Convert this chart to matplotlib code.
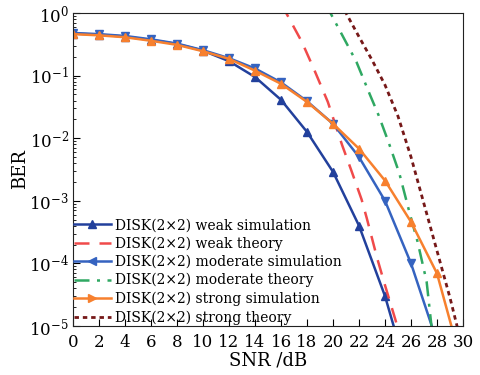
import numpy as np
import matplotlib
matplotlib.use("Agg")
import matplotlib.pyplot as plt
from matplotlib.lines import Line2D
from matplotlib.ticker import LogLocator, LogFormatterMathtext, NullFormatter

plt.rcParams["font.family"] = ["DejaVu Serif"]
plt.rcParams["mathtext.fontset"] = "dejavuserif"

# simulation points, every 2 dB
snr_sim = [0, 2, 4, 6, 8, 10, 12, 14, 16, 18, 20, 22, 24, 26]
ber_weak_sim = [0.47, 0.45, 0.42, 0.37, 0.32, 0.25, 0.17, 0.095, 0.041, 0.0126, 0.0029, 4.0e-4, 3.0e-5, 1.1e-6]

snr_sim2 = [0, 2, 4, 6, 8, 10, 12, 14, 16, 18, 20, 22, 24, 26, 28]
ber_mod_sim = [0.48, 0.46, 0.43, 0.38, 0.325, 0.255, 0.19, 0.13, 0.078, 0.039, 0.017, 0.005, 1.0e-3, 1.0e-4, 5.6e-6]

snr_sim3 = [0, 2, 4, 6, 8, 10, 12, 14, 16, 18, 20, 22, 24, 26, 28, 30]
ber_str_sim = [0.46, 0.44, 0.41, 0.36, 0.31, 0.245, 0.185, 0.12, 0.074, 0.038, 0.017, 0.0068, 0.0021, 4.6e-4, 6.9e-5, 2.1e-6]

# theory curves (log10 BER)
snr_weak_th = [16.0, 16.4, 17.6, 18.5, 19.6, 20.7, 21.4, 22.2, 22.6, 23.4, 24.0, 24.8, 25.0]
lg_weak_th = [0.15, 0.0, -0.46, -0.88, -1.42, -2.11, -2.51, -2.98, -3.28, -3.92, -4.35, -4.9, -5.05]

snr_mod_th = [19.4, 19.8, 20.7, 21.8, 22.85, 23.5, 24.3, 25.1, 25.9, 26.5, 27.2, 27.6]
lg_mod_th = [0.15, 0.0, -0.35, -0.78, -1.31, -1.63, -2.08, -2.56, -3.2, -3.65, -4.29, -5.05]

snr_str_th = [20.6, 21.0, 22.0, 23.0, 24.0, 25.0, 26.0, 27.0, 28.0, 29.0, 29.6]
lg_str_th = [0.15, 0.0, -0.38, -0.75, -1.15, -1.65, -2.3, -3.05, -3.8, -4.55, -5.05]

labels = ["DISK(2×2) weak simulation", "DISK(2×2) weak theory",
          "DISK(2×2) moderate simulation", "DISK(2×2) moderate theory",
          "DISK(2×2) strong simulation", "DISK(2×2) strong theory"]

c_weak = "#22409c"
c_weak_th = "#f04a4a"
c_mod = "#3563c0"
c_mod_th = "#2fa862"
c_str = "#f7802e"
c_str_th = "#761818"

fig = plt.figure(figsize=(4.81, 3.75), dpi=100)
ax = fig.add_axes([0.1518, 0.1307, 0.8108, 0.8346])

ax.semilogy(snr_sim, ber_weak_sim, color=c_weak, lw=1.8, marker="^", ms=5.5)
ax.semilogy(snr_weak_th, 10 ** np.array(lg_weak_th), color=c_weak_th, lw=1.8, dashes=(6, 4))
ax.semilogy(snr_sim2, ber_mod_sim, color=c_mod, lw=1.8, marker="v", ms=5.5)
ax.semilogy(snr_mod_th, 10 ** np.array(lg_mod_th), color=c_mod_th, lw=1.8, dashes=(6, 3, 1.2, 3))
ax.semilogy(snr_sim3, ber_str_sim, color=c_str, lw=1.8, marker="^", ms=5.5)
ax.semilogy(snr_str_th, 10 ** np.array(lg_str_th), color=c_str_th, lw=2.0, dashes=(1.6, 1.4))

ax.set_xlim(0, 30)
ax.set_ylim(1e-5, 1)
ax.set_xticks(np.arange(0, 31, 2))
ax.yaxis.set_major_locator(LogLocator(base=10, numticks=10))
ax.yaxis.set_major_formatter(LogFormatterMathtext())
ax.yaxis.set_minor_locator(LogLocator(base=10, subs=np.arange(2, 10), numticks=20))
ax.yaxis.set_minor_formatter(NullFormatter())
ax.tick_params(which="both", direction="in", top=False, right=False, labelsize=12)
ax.tick_params(which="major", length=5, width=0.8)
ax.tick_params(which="minor", length=2.5, width=0.6)
ax.tick_params(axis="x", pad=6)
ax.tick_params(axis="y", pad=3)
for sp in ax.spines.values():
    sp.set_color("#222222")

ax.set_xlabel("SNR /dB", fontsize=13, labelpad=0)
ax.set_ylabel("BER", fontsize=13, labelpad=0)

handles = [
    Line2D([], [], color=c_weak, lw=1.8, marker="^", ms=5.5),
    Line2D([], [], color=c_weak_th, lw=1.8, dashes=(6, 4)),
    Line2D([], [], color=c_mod, lw=1.8, marker="<", ms=5.5),
    Line2D([], [], color=c_mod_th, lw=1.8, dashes=(6, 3, 1.2, 3)),
    Line2D([], [], color=c_str, lw=1.8, marker=">", ms=5.5),
    Line2D([], [], color=c_str_th, lw=2.0, dashes=(1.6, 1.4)),
]
ax.legend(handles, labels, loc="lower left", frameon=False, fontsize=10,
          handlelength=2.6, handletextpad=0.35, labelspacing=0.3,
          borderaxespad=0.0, borderpad=0.1)

fig.savefig("out.png", dpi=100)
